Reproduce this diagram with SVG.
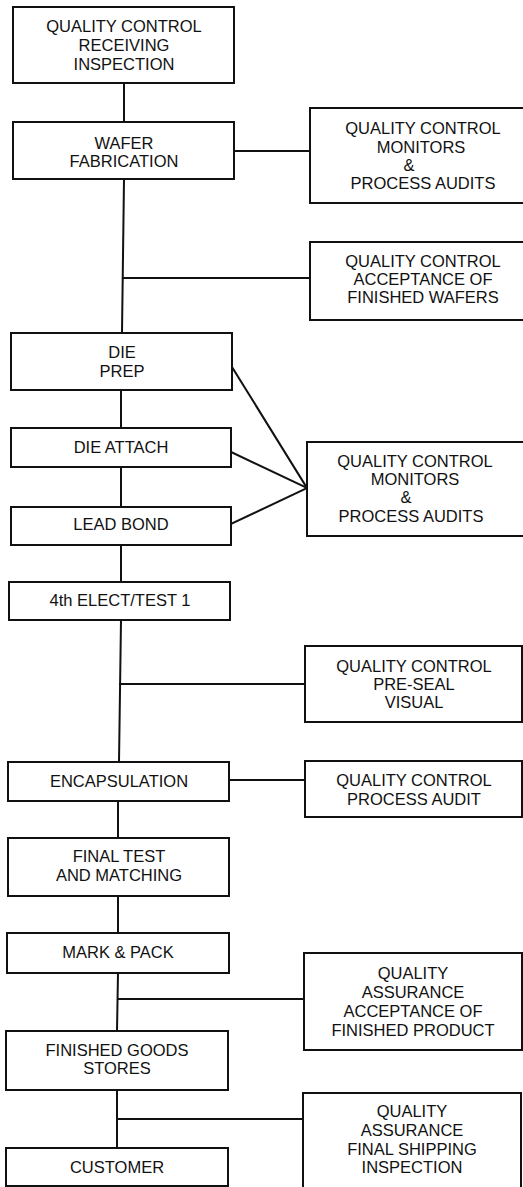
<svg xmlns="http://www.w3.org/2000/svg" width="523" height="1187" viewBox="0 0 523 1187">
  <style>
    .box { fill: #fff; stroke: #111; stroke-width: 2; }
    .wire { fill: none; stroke: #111; stroke-width: 2; stroke-linecap: square; }
    text { font-family: "Liberation Sans", Arial, sans-serif; font-size: 16.5px; fill: #111; text-anchor: middle; }
  </style>
  <rect width="523" height="1187" fill="#fff"/>

  <!-- connectors -->
  <g id="connectors" class="wire">
    <line x1="124" y1="83" x2="124" y2="122"/>
    <line x1="124" y1="179" x2="122" y2="333"/>
    <line x1="121" y1="390" x2="121" y2="428"/>
    <line x1="121" y1="467" x2="121" y2="507"/>
    <line x1="121" y1="545" x2="121" y2="582"/>
    <line x1="121" y1="620" x2="119" y2="762"/>
    <line x1="118" y1="801" x2="118" y2="838"/>
    <line x1="118" y1="896" x2="118" y2="933"/>
    <line x1="118" y1="973" x2="117" y2="1031"/>
    <line x1="117" y1="1090" x2="117" y2="1148"/>
    <!-- side branches to inspection boxes -->
    <line x1="234" y1="151" x2="310" y2="151"/>
    <line x1="123" y1="278" x2="310" y2="278"/>
    <line x1="232" y1="367" x2="307" y2="488"/>
    <line x1="231" y1="452" x2="307" y2="488"/>
    <line x1="231" y1="524" x2="307" y2="488"/>
    <line x1="120" y1="684" x2="305" y2="684"/>
    <line x1="229" y1="780" x2="305" y2="780"/>
    <line x1="118" y1="999" x2="304" y2="999"/>
    <line x1="117" y1="1119" x2="303" y2="1119"/>
  </g>

  <!-- main process flow -->
  <g id="qc-receiving">
    <rect class="box" x="13" y="7" width="221" height="76"/>
    <text x="124" y="32">QUALITY CONTROL</text>
    <text x="124" y="51">RECEIVING</text>
    <text x="124" y="70">INSPECTION</text>
  </g>
  <g id="wafer-fab">
    <rect class="box" x="13" y="122" width="221" height="57"/>
    <text x="124" y="149">WAFER</text>
    <text x="124" y="167">FABRICATION</text>
  </g>
  <g id="die-prep">
    <rect class="box" x="11" y="333" width="221" height="57"/>
    <text x="122" y="358">DIE</text>
    <text x="122" y="377">PREP</text>
  </g>
  <g id="die-attach">
    <rect class="box" x="11" y="428" width="220" height="39"/>
    <text x="121" y="453">DIE ATTACH</text>
  </g>
  <g id="lead-bond">
    <rect class="box" x="11" y="507" width="220" height="38"/>
    <text x="121" y="530">LEAD BOND</text>
  </g>
  <g id="elect-test">
    <rect class="box" x="9" y="582" width="221" height="38"/>
    <text x="120" y="606">4th ELECT/TEST 1</text>
  </g>
  <g id="encapsulation">
    <rect class="box" x="8" y="762" width="221" height="39"/>
    <text x="119" y="787">ENCAPSULATION</text>
  </g>
  <g id="final-test">
    <rect class="box" x="8" y="838" width="221" height="58"/>
    <text x="119" y="862">FINAL TEST</text>
    <text x="119" y="881">AND MATCHING</text>
  </g>
  <g id="mark-pack">
    <rect class="box" x="7" y="933" width="222" height="40"/>
    <text x="118" y="958">MARK &amp; PACK</text>
  </g>
  <g id="finished-goods">
    <rect class="box" x="6" y="1031" width="222" height="59"/>
    <text x="117" y="1056">FINISHED GOODS</text>
    <text x="117" y="1074">STORES</text>
  </g>
  <g id="customer">
    <rect class="box" x="6" y="1148" width="222" height="38"/>
    <text x="117" y="1173">CUSTOMER</text>
  </g>

  <!-- inspection / audit points -->
  <g id="qc-fab-audits">
    <rect class="box" x="310" y="108" width="225" height="95"/>
    <text x="423" y="134">QUALITY CONTROL</text>
    <text x="421" y="153">MONITORS</text>
    <text x="409" y="171">&amp;</text>
    <text x="423" y="189">PROCESS AUDITS</text>
  </g>
  <g id="qc-wafer-acceptance">
    <rect class="box" x="310" y="242" width="225" height="78"/>
    <text x="423" y="267">QUALITY CONTROL</text>
    <text x="423" y="285">ACCEPTANCE OF</text>
    <text x="423" y="303">FINISHED WAFERS</text>
  </g>
  <g id="qc-assembly-audits">
    <rect class="box" x="307" y="442" width="220" height="94"/>
    <text x="415" y="467">QUALITY CONTROL</text>
    <text x="415" y="485">MONITORS</text>
    <text x="406" y="503">&amp;</text>
    <text x="411" y="522">PROCESS AUDITS</text>
  </g>
  <g id="qc-pre-seal">
    <rect class="box" x="305" y="646" width="217" height="76"/>
    <text x="414" y="672">QUALITY CONTROL</text>
    <text x="414" y="690">PRE-SEAL</text>
    <text x="414" y="708">VISUAL</text>
  </g>
  <g id="qc-encap-audit">
    <rect class="box" x="305" y="761" width="217" height="56"/>
    <text x="414" y="786">QUALITY CONTROL</text>
    <text x="414" y="805">PROCESS AUDIT</text>
  </g>
  <g id="qa-product-acceptance">
    <rect class="box" x="304" y="953" width="218" height="97"/>
    <text x="413" y="979">QUALITY</text>
    <text x="413" y="998">ASSURANCE</text>
    <text x="413" y="1017">ACCEPTANCE OF</text>
    <text x="413" y="1036">FINISHED PRODUCT</text>
  </g>
  <g id="qa-shipping">
    <rect class="box" x="303" y="1093" width="218" height="100"/>
    <text x="412" y="1117">QUALITY</text>
    <text x="412" y="1136">ASSURANCE</text>
    <text x="412" y="1155">FINAL SHIPPING</text>
    <text x="412" y="1173">INSPECTION</text>
  </g>
</svg>
